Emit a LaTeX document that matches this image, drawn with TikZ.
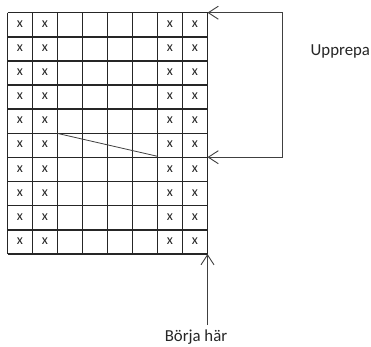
\documentclass[tikz,border=0pt]{standalone}
\usepackage{fontspec}
\setmainfont{Carlito}
\usetikzlibrary{arrows.meta}
\tikzset{
  gridline/.style={draw=black!85, line width=1.5pt},
  conn/.style={draw=black!75, line width=0.9pt},
  barb/.style={-{Straight Barb[length=10pt,width=13pt,line width=0.9pt]}},
  cellx/.style={font=\fontsize{14}{14}\selectfont, inner sep=0pt, text=black!85},
  lbl/.style={font=\fontsize{16.8}{17}\selectfont, inner sep=0pt, text=black!85}
}
\begin{document}
\begin{tikzpicture}[x=1pt,y=-1pt]
\useasboundingbox (0,0) rectangle (371,346);
\fill[white] (0,0) rectangle (371,346);
% grid
\foreach \i in {0,...,8} {
  \draw[gridline] ({7.5+25*\i},12.7) -- ({7.5+25*\i},254);
}
\foreach \j in {0,...,10} {
  \draw[gridline] (7.5,{12.7+24.13*\j}) -- (207.5,{12.7+24.13*\j});
}
% crosses
\foreach \j in {0,...,9} {
  \foreach \i in {0,1,6,7} {
    \node[cellx] (x\i\j) at ({20+25*\i},{24+24.13*\j}) {x};
  }
}
% diagonal
\coordinate (d1) at (57.5,133.4);
\coordinate (d2) at (157.5,156.3);
\draw[conn, line width=0.8pt] (d1) -- (d2);
% repeat loop
\coordinate (TR) at (207.5,12.7);
\coordinate (MR) at (207.5,157.2);
\coordinate (L1) at (282.5,157.2);
\coordinate (L2) at (282.5,12.7);
\draw[conn, {Straight Barb[length=10pt,width=13pt,line width=0.9pt]}-{Straight Barb[length=10pt,width=13pt,line width=0.9pt]}] (MR) -- (L1) -- (L2) -- (TR);
\node[lbl, anchor=base west] (upp) at (310.5,55) {Upprepa};
% start arrow
\coordinate (BR) at (207.5,254);
\coordinate (S) at (207.5,325);
\draw[conn, barb] (S) -- (BR);
\node[lbl, anchor=base] (start) at (196,341.5) {Börja här};
\end{tikzpicture}
\end{document}
